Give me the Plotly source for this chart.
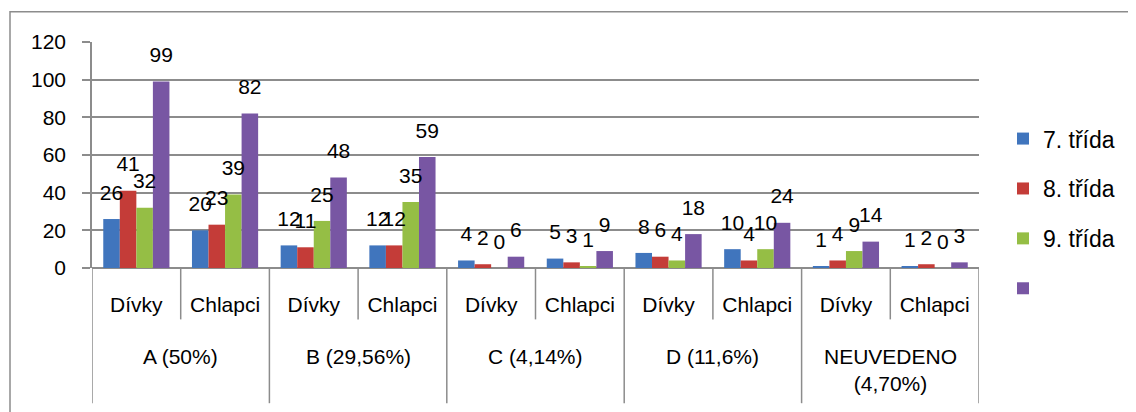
import plotly.graph_objects as go

groups = ["A (50%)", "B (29,56%)", "C (4,14%)", "D (11,6%)", "NEUVEDENO<br>(4,70%)"]
genders = ["Dívky", "Chlapci"]

series_names = ["7. třída", "8. třída", "9. třída", " "]
s7 = [26, 20, 12, 12, 4, 5, 8, 10, 1, 1]
s8 = [41, 23, 11, 12, 2, 3, 6, 4, 4, 2]
s9 = [32, 39, 25, 35, 0, 1, 4, 10, 9, 0]
s_total = [99, 82, 48, 59, 6, 9, 18, 24, 14, 3]
colors = ["#4075bd", "#c43c38", "#95be45", "#7856a3"]

cat_ids = [f"{g}|{s}" for g in groups for s in genders]
cat_text = [s for _ in groups for s in genders]

FONT = "Liberation Sans, Arial"
GRID = "#8c8c8c"
GAP = 0.254

# page offset of the figure (body margin)
OFF = 8
W, H = 1136, 412
# plot area in page pixels: x 92..979, y 42..268.5
l = 92 - OFF
r = W - (979 - OFF)
t = 42 - OFF
b = H - (268.5 - OFF)
pw, ph = W - l - r, H - t - b
PB = 268.5  # plot bottom in page pixels

def py(ypx):
    return (PB - ypx) / ph

def px(xpx):
    return (xpx - 92) / pw

fig = go.Figure()
for i, (name, vals) in enumerate(zip(series_names, [s7, s8, s9, s_total])):
    fig.add_trace(go.Bar(
        x=cat_ids, y=vals, name=name, offsetgroup=str(i),
        marker=dict(color=colors[i], line=dict(width=0)),
        legendgroup=f"g{i}",
    ))
for i, vals in enumerate([s7, s8, s9, s_total]):
    fig.add_trace(go.Scatter(
        x=cat_ids, y=vals, mode="markers+text", offsetgroup=str(i),
        marker=dict(size=21, opacity=0), text=[str(v) for v in vals],
        textposition="top center", textfont=dict(size=21, color="black", family=FONT),
        showlegend=False, hoverinfo="skip", cliponaxis=False,
    ))

shapes = [dict(type="rect", xref="paper", yref="paper",
               x0=px(10), x1=px(1150), y0=py(430), y1=py(11.7),
               line=dict(color=GRID, width=1.5), fillcolor="rgba(0,0,0,0)", layer="below")]
for k in range(len(groups) + 1):
    shapes.append(dict(type="line", xref="x", yref="paper", x0=2 * k - 0.5, x1=2 * k - 0.5,
                       y0=0, y1=py(404), line=dict(color=GRID, width=1.5)))
for k in range(len(groups)):
    shapes.append(dict(type="line", xref="x", yref="paper", x0=2 * k + 0.5, x1=2 * k + 0.5,
                       y0=0, y1=py(320), line=dict(color=GRID, width=1.5)))

annotations = [dict(text=g, xref="x", yref="paper", x=2 * k + 0.5, y=py(344), yanchor="top",
                    xanchor="center", showarrow=False, font=dict(size=21, family=FONT))
               for k, g in enumerate(groups)]

fig.update_layout(
    width=W, height=H,
    margin=dict(l=l, r=r, t=t, b=b, autoexpand=False),
    paper_bgcolor="white", plot_bgcolor="white",
    barmode="group", bargap=GAP, bargroupgap=0,
    scattermode="group", scattergap=GAP,
    font=dict(family=FONT, size=21, color="black"),
    showlegend=True,
    legend=dict(x=px(1003), y=py(214), xanchor="left", yanchor="middle",
                font=dict(size=23, family=FONT), tracegroupgap=17,
                traceorder="grouped"),
    xaxis=dict(type="category", range=[-0.5, 9.5], tickmode="array", tickvals=cat_ids,
               ticktext=cat_text, showline=False, ticks="", showgrid=False,
               tickfont=dict(size=21, family=FONT), ticklabelstandoff=22),
    yaxis=dict(range=[0, 120], dtick=20, showgrid=True, gridcolor=GRID, gridwidth=2,
               showline=True, linecolor=GRID, linewidth=1.5, ticks="outside",
               ticklen=8, tickcolor=GRID, tickwidth=2, zeroline=True, zerolinecolor=GRID,
               zerolinewidth=2, tickfont=dict(size=21, family=FONT), ticklabelstandoff=12),
    shapes=shapes,
    annotations=annotations,
)

fig.write_html("out.html")
